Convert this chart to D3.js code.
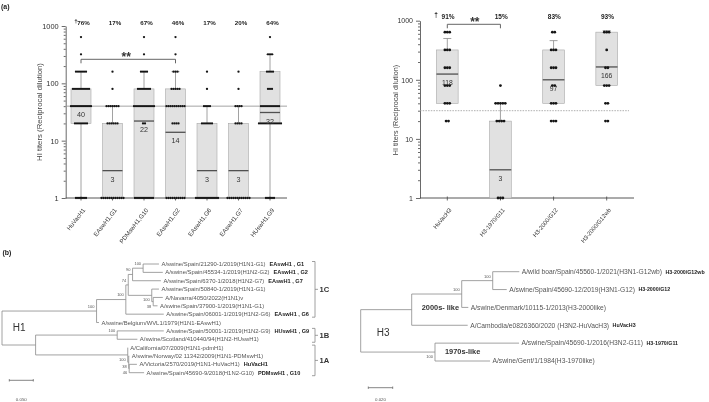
<!DOCTYPE html>
<html>
<head>
<meta charset="utf-8">
<script src="https://cdn.jsdelivr.net/npm/d3@7"></script>
<style>
body { margin: 0; background: #fff; }
svg { display: block; font-family: "Liberation Sans", Arial, sans-serif; will-change: transform; }
</style>
</head>
<body>
<svg id="fig" width="709" height="402"></svg>
<script>
// ---- (a) H1 panel data
const h1Categories = ["HuVacH1", "EAswH1,G1", "PDMswH1,G10", "EAswH1,G2", "EAswH1,G6", "EAswH1,G7", "HUswH1,G9"];
const h1Percent = ["76%", "17%", "67%", "46%", "17%", "20%", "64%"];
const h1Q1 = [20, 1, 1, 1, 1, 1, 20];
const h1Q3 = [80, 20, 80, 80, 20, 20, 160];
const h1Median = [40, 3, 22, 14, 3, 3, 31];
const h1MeanLabel = ["40", "3", "22", "14", "3", "3", "32"];
const h1WhiskerLow = [1, 1, 1, 1, 1, 1, 1];
const h1WhiskerHigh = [160, 40, 160, 160, 40, 40, 320];
// [titre, nombre d'animaux]
const h1Dots = [
    [[640, 1], [320, 1], [160, 6], [80, 9], [40, 11], [20, 7], [1, 6]],
    [[160, 1], [80, 1], [40, 7], [20, 6], [1, 12]],
    [[640, 1], [320, 1], [160, 4], [80, 7], [40, 11], [20, 2], [1, 10]],
    [[640, 1], [320, 1], [160, 3], [80, 5], [40, 10], [20, 4], [1, 10]],
    [[160, 1], [80, 1], [40, 4], [20, 6], [1, 12]],
    [[160, 1], [80, 1], [40, 4], [20, 4], [1, 12]],
    [[640, 1], [320, 3], [160, 4], [80, 3], [40, 10], [20, 12], [1, 5]]
];
const h1Threshold = 40;
const h1Signif = [0, 3];

// ---- (a) H3 panel data
const h3Categories = ["HuVacH3", "H3-1970/G11", "H3-2000/G12", "H3-2000/G12wb"];
const h3Percent = ["91%", "15%", "83%", "93%"];
const h3Q1 = [40, 1, 40, 80];
const h3Q3 = [320, 20, 320, 640];
const h3Median = [125, 3, 100, 165];
const h3MeanLabel = ["118", "3", "97", "166"];
const h3WhiskerLow = [40, 1, 40, 80];
const h3WhiskerHigh = [500, 40, 460, 680];
const h3Dots = [
    [[640, 3], [320, 3], [160, 3], [80, 3], [40, 3], [20, 2]],
    [[80, 1], [40, 5], [20, 4], [1, 3]],
    [[640, 2], [320, 3], [160, 3], [80, 2], [40, 3], [20, 3]],
    [[640, 3], [320, 1], [160, 2], [80, 3], [40, 2], [20, 2]]
];
const h3Threshold = 30;
const h3Signif = [0, 1];

const yTicks = [1, 10, 100, 1000];

// ---- (b) arbres : [id, parent, longueur de branche, bootstrap]
const h1Tree = [
    ["root", "", 0],
    ["A", "root", 0.197, 100],
    ["C1C", "A", 0.061, 100],
    ["B", "C1C", 0.005, 74],
    ["C", "B", 0.009, 90],
    ["G1G2", "C", 0.022, 100],
    ["A/swine/Spain/21290-1/2019(H1N1-G1)", "G1G2", 0.033],
    ["A/swine/Spain/45534-1/2019(H1N2-G2)", "G1G2", 0.041],
    ["A/swine/Spain/6370-1/2018(H1N2-G7)", "C", 0.059],
    ["D", "B", 0.049, 100],
    ["A/swine/Spain/50840-1/2019(H1N1-G1)", "D", 0.015],
    ["NC", "D", 0.003, 38],
    ["A/Navarra/4050/2022(H1N1)v", "NC", 0.020],
    ["A/swine/Spain/37900-1/2019(H1N1-G1)", "NC", 0.009],
    ["A/swine/Spain/06001-1/2019(H1N2-G6)", "C1C", 0.079],
    ["A/swine/Belgium/WVL1/1979(H1N1-EAswH1)", "A", 0.005],
    ["E", "root", 0.070],
    ["C1B", "E", 0.170, 100],
    ["A/swine/Spain/50001-1/2019(H1N2-G9)", "C1B", 0.097],
    ["A/swine/Scotland/410440/94(H1N2-HUswH1)", "C1B", 0.042],
    ["C1A", "E", 0.192, 100],
    ["A/California/07/2009(H1N1-pdmH1)", "C1A", 0.0],
    ["F", "C1A", 0.002, 38],
    ["A/swine/Norway/02 11342/2009(H1N1-PDMswH1)", "F", 0.001],
    ["G", "F", 0.001, 46],
    ["A/Victoria/2570/2019(H1N1-HuVacH1)", "G", 0.016],
    ["A/swine/Spain/45690-9/2018(H1N2-G10)", "G", 0.031]
];
const h1SupportBelow = ["D", "NC", "C1A", "F", "G"];
const h1Tags = [
    ["A/swine/Spain/21290-1/2019(H1N1-G1)", "EAswH1 , G1"],
    ["A/swine/Spain/45534-1/2019(H1N2-G2)", "EAswH1 , G2"],
    ["A/swine/Spain/6370-1/2018(H1N2-G7)", "EAswH1 , G7"],
    ["A/swine/Spain/06001-1/2019(H1N2-G6)", "EAswH1 , G6"],
    ["A/swine/Spain/50001-1/2019(H1N2-G9)", "HUswH1 , G9"],
    ["A/Victoria/2570/2019(H1N1-HuVacH1)", "HuVacH1"],
    ["A/swine/Spain/45690-9/2018(H1N2-G10)", "PDMswH1 , G10"]
];
// [nom, premiere feuille, derniere feuille]
const h1Clades = [["1C", 0, 6], ["1B", 8, 9], ["1A", 10, 13]];

const h3Tree = [
    ["root", "", 0],
    ["P", "root", 0.0418],
    ["Q", "P", 0.041, 100],
    ["R", "Q", 0.0254, 100],
    ["A/wild boar/Spain/45560-1/2021(H3N1-G12wb)", "R", 0.0218],
    ["A/swine/Spain/45690-12/2019(H3N1-G12)", "R", 0.0115],
    ["A/swine/Denmark/10115-1/2013(H3-2000like)", "Q", 0.0054],
    ["A/Cambodia/e0826360/2020 (H3N2-HuVacH3)", "P", 0.0459],
    ["S", "root", 0.0609, 100],
    ["A/swine/Spain/45690-1/2016(H3N2-G11)", "S", 0.0689],
    ["A/swine/Gent/1/1984(H3-1970like)", "S", 0.0451]
];
const h3SupportBelow = ["S"];
const h3Tags = [
    ["A/wild boar/Spain/45560-1/2021(H3N1-G12wb)", "H3-2000/G12wb"],
    ["A/swine/Spain/45690-12/2019(H3N1-G12)", "H3-2000/G12"],
    ["A/Cambodia/e0826360/2020 (H3N2-HuVacH3)", "HuVacH3"],
    ["A/swine/Spain/45690-1/2016(H3N2-G11)", "H3-1970/G11"]
];

const svg = d3.select("#fig");

// Dessine un panneau de boites a moustaches en echelle log.
function drawBoxPanel(p) {
    const x = d3.scalePoint().domain(p.categories).range(p.xRange);
    const y = d3.scaleLog().domain([1, 1000]).range(p.yRange);
    const g = svg.append("g");
    const axisColor = "#444";

    // axe Y majeur + mineur
    const yAxis = g.append("g")
        .attr("transform", "translate(" + p.axisX0 + ",0)")
        .call(d3.axisLeft(y).tickValues(yTicks).tickFormat(d3.format("d")).tickSize(4).tickSizeOuter(0));
    const minor = [];
    [1, 10, 100].forEach(function(d) {
        for (let k = 2; k <= 9; k++) minor.push(d * k);
    });
    g.append("g")
        .attr("transform", "translate(" + p.axisX0 + ",0)")
        .call(d3.axisLeft(y).tickValues(minor).tickFormat("").tickSize(2).tickSizeOuter(0))
        .select(".domain").remove();
    g.selectAll(".tick line, .domain").attr("stroke", axisColor).attr("stroke-width", 0.8);
    yAxis.selectAll("text")
        .attr("font-size", p.tickFont)
        .attr("fill", "#333")
        .attr("font-family", null);

    // axe X
    g.append("line")
        .attr("x1", p.axisX0).attr("x2", p.axisX1)
        .attr("y1", y(1)).attr("y2", y(1))
        .attr("stroke", axisColor).attr("stroke-width", 0.9);
    g.selectAll(".xtick")
        .data(p.categories)
        .enter()
        .append("line")
        .attr("x1", function(d) { return x(d); })
        .attr("x2", function(d) { return x(d); })
        .attr("y1", y(1) - 1.5)
        .attr("y2", y(1) + 2.5)
        .attr("stroke", axisColor).attr("stroke-width", 0.8);
    g.selectAll(".xlabel")
        .data(p.categories)
        .enter()
        .append("text")
        .attr("transform", function(d) {
            return "translate(" + (x(d) + 3) + "," + (y(1) + 11) + ") rotate(" + p.angle + ")";
        })
        .attr("text-anchor", "end")
        .attr("dy", "0.35em")
        .attr("font-size", p.xFont)
        .attr("fill", "#333")
        .text(function(d) { return d; });

    // titre de l'axe Y
    g.append("text")
        .attr("transform", "translate(" + p.yLabelX + "," + p.yLabelY + ") rotate(-90)")
        .attr("text-anchor", "middle")
        .attr("dy", "0.35em")
        .attr("font-size", p.yLabelFont)
        .attr("fill", "#444")
        .text("HI titers (Reciprocal dilution)");

    const half = p.boxWidth / 2;

    // boites
    p.categories.forEach(function(c, i) {
        g.append("rect")
            .attr("x", x(c) - half)
            .attr("y", y(p.q3[i]))
            .attr("width", p.boxWidth)
            .attr("height", y(p.q1[i]) - y(p.q3[i]))
            .attr("fill", "#e1e1e1")
            .attr("stroke", "#a8a8a8")
            .attr("stroke-width", 0.6);
    });

    // seuil
    g.append("line")
        .attr("x1", p.axisX0).attr("x2", p.thresholdX1)
        .attr("y1", y(p.threshold)).attr("y2", y(p.threshold))
        .attr("stroke", "#999")
        .attr("stroke-width", p.thresholdDash ? 0.8 : 0.9)
        .attr("stroke-dasharray", p.thresholdDash);

    // moustaches
    p.categories.forEach(function(c, i) {
        const cx = x(c);
        if (p.whiskerHigh[i] > p.q3[i]) {
            g.append("line")
                .attr("x1", cx).attr("x2", cx)
                .attr("y1", y(p.q3[i])).attr("y2", y(p.whiskerHigh[i]))
                .attr("stroke", "#8a8a8a").attr("stroke-width", 0.8);
            g.append("line")
                .attr("x1", cx - 4).attr("x2", cx + 4)
                .attr("y1", y(p.whiskerHigh[i])).attr("y2", y(p.whiskerHigh[i]))
                .attr("stroke", "#8a8a8a").attr("stroke-width", 0.8);
        }
        if (p.whiskerLow[i] < p.q1[i]) {
            g.append("line")
                .attr("x1", cx).attr("x2", cx)
                .attr("y1", y(p.q1[i])).attr("y2", y(p.whiskerLow[i]))
                .attr("stroke", "#8a8a8a").attr("stroke-width", 0.8);
        }
    });

    // medianes
    p.categories.forEach(function(c, i) {
        g.append("line")
            .attr("x1", x(c) - half).attr("x2", x(c) + half)
            .attr("y1", y(p.median[i])).attr("y2", y(p.median[i]))
            .attr("stroke", "#505050").attr("stroke-width", 1.3);
    });

    // points individuels, alignes horizontalement autour du centre
    p.categories.forEach(function(c, i) {
        p.dots[i].forEach(function(vc) {
            const n = vc[1];
            for (let k = 0; k < n; k++) {
                g.append("circle")
                    .attr("cx", x(c) + (k - (n - 1) / 2) * p.dotGap)
                    .attr("cy", y(vc[0]))
                    .attr("r", p.dotR)
                    .attr("fill", "#151515");
            }
        });
    });

    // valeurs dans les boites
    g.selectAll(".meanlabel")
        .data(p.categories)
        .enter()
        .append("text")
        .attr("x", function(d) { return x(d); })
        .attr("y", function(d, i) { return y(p.median[i]) + 8.5; })
        .attr("dy", "0.35em")
        .attr("text-anchor", "middle")
        .attr("font-size", p.boxFont)
        .attr("fill", "#333")
        .text(function(d, i) { return p.labels[i]; });

    // pourcentages
    g.selectAll(".pct")
        .data(p.categories)
        .enter()
        .append("text")
        .attr("x", function(d) { return x(d) + p.pctDx; })
        .attr("y", p.pctY)
        .attr("dy", "0.35em")
        .attr("text-anchor", "middle")
        .attr("font-size", p.pctFont)
        .attr("font-weight", "bold")
        .attr("fill", "#222")
        .text(function(d, i) { return p.percent[i]; });
    g.append("text")
        .attr("x", x(p.categories[0]) + p.daggerDx)
        .attr("y", p.pctY - 1.5)
        .attr("dy", "0.35em")
        .attr("text-anchor", "middle")
        .attr("font-size", p.pctFont)
        .attr("font-weight", "bold")
        .attr("fill", "#222")
        .text("\u2020");

    // crochet de significativite
    const xa = x(p.categories[p.signif[0]]);
    const xb = x(p.categories[p.signif[1]]);
    g.append("path")
        .attr("d", "M" + xa + "," + (p.sigY + 4) + "V" + p.sigY + "H" + xb + "V" + (p.sigY + 4))
        .attr("fill", "none")
        .attr("stroke", "#666")
        .attr("stroke-width", 1);
    g.append("text")
        .attr("x", (xa + xb) / 2 + p.starDx)
        .attr("y", p.sigY + 2)
        .attr("text-anchor", "middle")
        .attr("font-size", 12)
        .attr("font-weight", "bold")
        .attr("fill", "#333")
        .text("**");
}

drawBoxPanel({
    categories: h1Categories, percent: h1Percent,
    q1: h1Q1, q3: h1Q3, median: h1Median, labels: h1MeanLabel,
    whiskerLow: h1WhiskerLow, whiskerHigh: h1WhiskerHigh, dots: h1Dots,
    threshold: h1Threshold, thresholdDash: null, signif: h1Signif,
    xRange: [81, 270], yRange: [198, 26], axisX0: 65.7, axisX1: 287, thresholdX1: 287,
    boxWidth: 20, dotR: 1.15, dotGap: 2,
    angle: -52, xFont: 6.2, tickFont: 7.4, yLabelFont: 7.8, yLabelX: 39.5, yLabelY: 112,
    boxFont: 7.2, pctFont: 6.2, pctY: 22.7, pctDx: 2.5, daggerDx: -5,
    sigY: 59.3, starDx: -2
});

drawBoxPanel({
    categories: h3Categories, percent: h3Percent,
    q1: h3Q1, q3: h3Q3, median: h3Median, labels: h3MeanLabel,
    whiskerLow: h3WhiskerLow, whiskerHigh: h3WhiskerHigh, dots: h3Dots,
    threshold: h3Threshold, thresholdDash: "1.5,1.2", signif: h3Signif,
    xRange: [447.3, 606.7], yRange: [198, 20.7], axisX0: 420, axisX1: 634, thresholdX1: 629,
    boxWidth: 21.7, dotR: 1.4, dotGap: 2.4,
    angle: -50, xFont: 5.9, tickFont: 7, yLabelFont: 7.2, yLabelX: 395, yLabelY: 110,
    boxFont: 6.8, pctFont: 6.5, pctY: 16.7, pctDx: 0.8, daggerDx: -11.3,
    sigY: 24.3, starDx: 1
});

// Dessine un arbre phylogenetique rectangulaire.
function drawTree(rows, opt) {
    const root = d3.stratify()
        .id(function(d) { return d[0]; })
        .parentId(function(d) { return d[1] || null; })(rows);

    const x = d3.scaleLinear().domain([0, 1]).range([opt.x0, opt.x0 + opt.pxPerUnit]);
    root.eachBefore(function(n) {
        n.dist = n.parent ? n.parent.dist + n.data[2] : 0;
        n.px = x(n.dist);
    });
    const leaves = root.leaves();
    const row = d3.scaleLinear().domain([0, leaves.length - 1]).range(opt.yRange);
    leaves.forEach(function(l, i) { l.py = row(i); });
    root.eachAfter(function(n) {
        if (n.children) {
            n.py = (n.children[0].py + n.children[n.children.length - 1].py) / 2;
        }
    });

    const g = svg.append("g");
    const lineColor = "#8a8a8a";

    root.descendants().forEach(function(n) {
        if (n.children) {
            g.append("line")
                .attr("x1", n.px).attr("x2", n.px)
                .attr("y1", n.children[0].py).attr("y2", n.children[n.children.length - 1].py)
                .attr("stroke", lineColor).attr("stroke-width", 0.8);
        }
        if (n.parent) {
            g.append("line")
                .attr("x1", n.parent.px).attr("x2", n.px)
                .attr("y1", n.py).attr("y2", n.py)
                .attr("stroke", lineColor).attr("stroke-width", 0.8);
        }
        if (n.data[3] !== undefined) {
            const below = opt.below.indexOf(n.id) >= 0;
            g.append("text")
                .attr("x", n.px - 2)
                .attr("y", n.py + (below ? 4.5 : -4.5))
                .attr("dy", "0.35em")
                .attr("text-anchor", "end")
                .attr("font-size", opt.supportFont)
                .attr("fill", "#555")
                .text(n.data[3]);
        }
    });

    const tagMap = new Map(opt.tags);
    leaves.forEach(function(l) {
        const t = g.append("text")
            .attr("x", l.px + 2.5)
            .attr("y", l.py)
            .attr("dy", "0.35em")
            .attr("font-size", opt.leafFont)
            .attr("fill", "#555")
            .text(l.id);
        if (tagMap.has(l.id)) {
            const w = t.node().getComputedTextLength();
            g.append("text")
                .attr("x", l.px + 2.5 + w + opt.tagGap)
                .attr("y", l.py)
                .attr("dy", "0.35em")
                .attr("font-size", opt.tagFont)
                .attr("font-weight", "bold")
                .attr("fill", "#222")
                .text(tagMap.get(l.id));
        }
    });

    // barre d'echelle
    const sx0 = opt.scaleBar[0];
    const sy = opt.scaleBar[1];
    const sx1 = sx0 + opt.scaleValue * opt.pxPerUnit;
    g.append("path")
        .attr("d", "M" + sx0 + "," + (sy - 1.2) + "V" + (sy + 1.2) + "M" + sx0 + "," + sy + "H" + sx1 +
            "M" + sx1 + "," + (sy - 1.2) + "V" + (sy + 1.2))
        .attr("fill", "none")
        .attr("stroke", "#666")
        .attr("stroke-width", 0.8);
    g.append("text")
        .attr("x", (sx0 + sx1) / 2)
        .attr("y", 399)
        .attr("dy", "0.35em")
        .attr("text-anchor", "middle")
        .attr("font-size", 4.4)
        .attr("fill", "#555")
        .text(d3.format(".3f")(opt.scaleValue));

    // nom du sous-type
    g.append("text")
        .attr("x", opt.nameX)
        .attr("y", opt.nameY)
        .attr("dy", "0.35em")
        .attr("font-size", 10)
        .attr("fill", "#333")
        .text(opt.name);

    return { g: g, leaves: leaves, root: root };
}

const t1 = drawTree(h1Tree, {
    x0: 2, pxPerUnit: 480, yRange: [264, 372.7], below: h1SupportBelow,
    tags: h1Tags, tagGap: 4, leafFont: 5.9, tagFont: 5.6, supportFont: 4,
    scaleBar: [9.3, 380.3], scaleValue: 0.05, name: "H1", nameX: 12.7, nameY: 327
});

// crochets des clades H1
h1Clades.forEach(function(c) {
    const y0 = t1.leaves[c[1]].py - 2.5;
    const y1 = t1.leaves[c[2]].py + 3;
    const bx = 315;
    t1.g.append("path")
        .attr("d", "M" + (bx - 3) + "," + y0 + "H" + bx + "V" + y1 + "H" + (bx - 3) +
            "M" + bx + "," + ((y0 + y1) / 2) + "H" + (bx + 3))
        .attr("fill", "none")
        .attr("stroke", "#888")
        .attr("stroke-width", 0.8);
    t1.g.append("text")
        .attr("x", bx + 4.5)
        .attr("y", (y0 + y1) / 2)
        .attr("dy", "0.35em")
        .attr("font-size", 7.6)
        .attr("font-weight", "bold")
        .attr("fill", "#333")
        .text(c[0]);
});

const t3 = drawTree(h3Tree, {
    x0: 360.7, pxPerUnit: 1220, yRange: [271.7, 361], below: h3SupportBelow,
    tags: h3Tags, tagGap: 3.5, leafFont: 6.7, tagFont: 5.3, supportFont: 4,
    scaleBar: [368.3, 387.7], scaleValue: 0.02, name: "H3", nameX: 376.7, nameY: 332
});

t3.g.append("text")
    .attr("x", 421.7).attr("y", 307.7).attr("dy", "0.35em")
    .attr("font-size", 7.4).attr("font-weight", "bold").attr("fill", "#333")
    .text("2000s- like");
t3.g.append("text")
    .attr("x", 445).attr("y", 351.7).attr("dy", "0.35em")
    .attr("font-size", 7.4).attr("font-weight", "bold").attr("fill", "#333")
    .text("1970s-like");

// lettres des panneaux
svg.append("text").attr("x", 1).attr("y", 8.5)
    .attr("font-size", 7).attr("font-weight", "bold").attr("fill", "#222").text("(a)");
svg.append("text").attr("x", 2.5).attr("y", 254.5)
    .attr("font-size", 7).attr("font-weight", "bold").attr("fill", "#222").text("(b)");
</script>
</body>
</html>
